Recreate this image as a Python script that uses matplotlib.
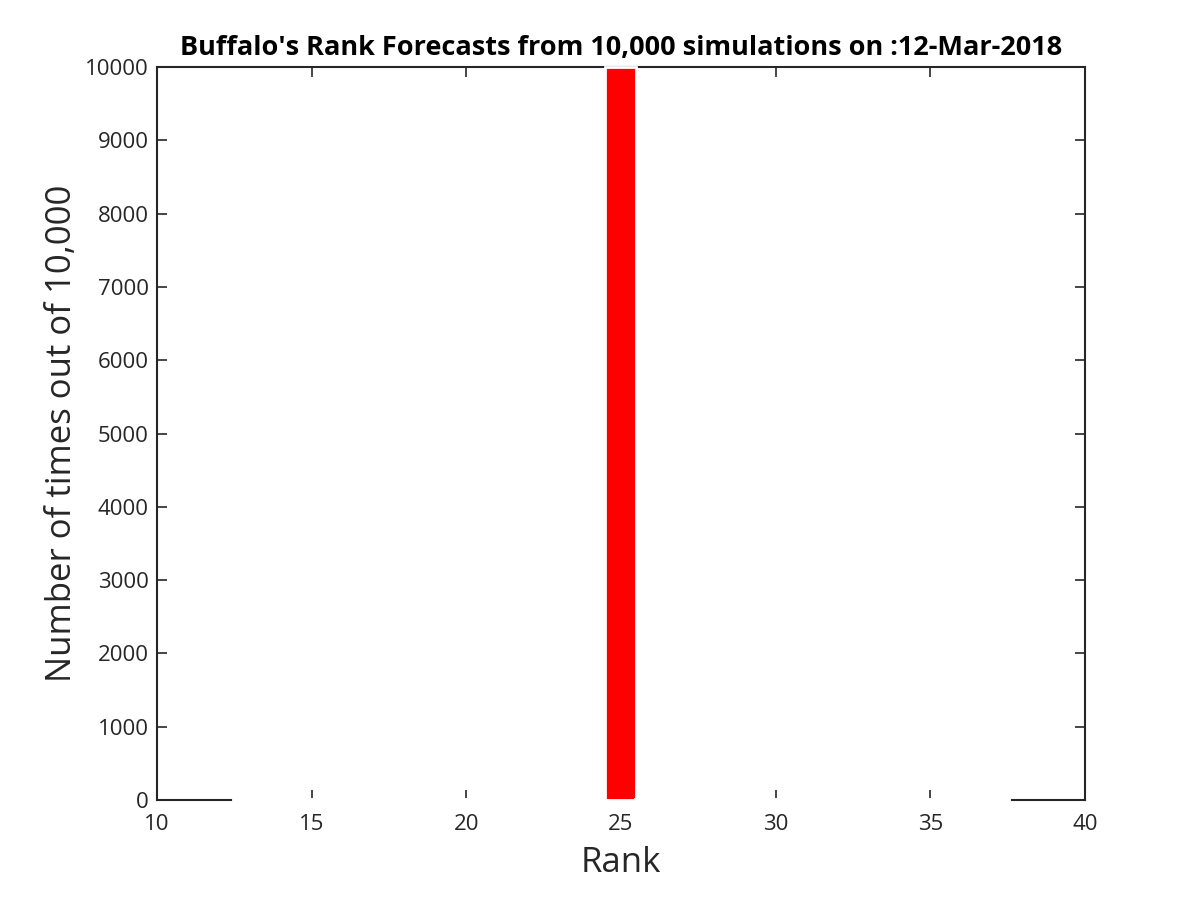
import numpy as np
import matplotlib
matplotlib.use('Agg')
import matplotlib.pyplot as plt

ranks = np.arange(13, 38)
counts = np.zeros(len(ranks))
counts[ranks == 25] = 10000

title = "Buffalo\u2032s Rank Forecasts from 10,000 simulations on :12-Mar-2018"
axcol = "#262626"

plt.rcParams['font.family'] = ['Open Sans', 'DejaVu Sans']

fig = plt.figure(figsize=(12, 9), dpi=100)
ax = fig.add_axes([0.1308, 0.111, 0.7733, 0.8145])

# zero bars drawn in white on top of the bottom spine, like the original
bars = ax.bar(ranks, counts, width=1.0, color='#ff0000', edgecolor='white',
              linewidth=2.0, zorder=3)
for b in bars:
    b.set_clip_on(False)
    b.set_joinstyle('miter')
    b.set_capstyle('projecting')
    if b.get_height() == 0:
        b.set_linewidth(3.5)

ax.set_xlim(10, 40)
ax.set_ylim(0, 10000)
ax.set_xticks(np.arange(10, 41, 5))
ax.set_yticks(np.arange(0, 10001, 1000))
ax.tick_params(direction='in', top=True, right=True, length=7, width=1.2,
               colors=axcol, labelsize=16, pad=6)
ax.tick_params(axis='x', pad=10)
for s in ax.spines.values():
    s.set_color(axcol)
    s.set_linewidth(1.5)

ax.set_xlabel("Rank", fontsize=25, color=axcol, labelpad=8)
ax.set_ylabel("Number of times out of 10,000", fontsize=25, color=axcol, labelpad=4)
ax.set_title(title, fontsize=19.5, fontweight='bold', color='black', pad=9)

fig.savefig("out.png")
